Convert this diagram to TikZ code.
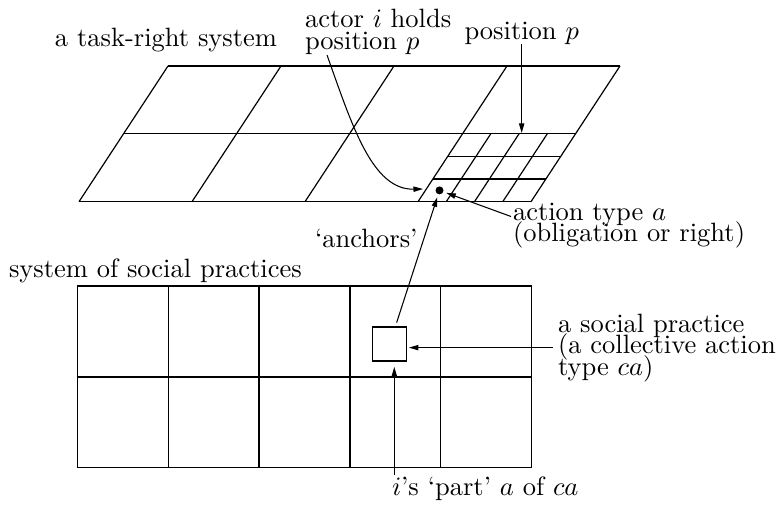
\documentclass[tikz,border=0pt]{standalone}
\usetikzlibrary{arrows.meta,calc}
\newcommand\lblfont{\fontsize{10}{8.11}\selectfont\lineskiplimit=-20pt\relax}
\begin{document}
\begin{tikzpicture}[x=0.3774pt,y=-0.3774pt,
  lbl/.style={inner sep=0pt,outer sep=0pt,anchor=base west,align=left,font=\lblfont},
  arr/.style={-{Triangle[length=3.6pt,width=2pt]},line width=0.4pt},
  gridline/.style={line width=0.45pt},
]
\useasboundingbox (0,0) rectangle (780,506);

% task-right system (slanted grid)
\foreach \u in {0,...,4} \draw[gridline] ({168+113*\u},66) -- ({79+113*\u},201.7);
\foreach \v in {0,1,2} \draw[gridline] ({168-44.5*\v},{66+67.85*\v}) -- ({620-44.5*\v},{66+67.85*\v});
\foreach \u in {3.25,3.5,3.75} \draw[gridline] ({168+113*\u-44.5},133.85) -- ({168+113*\u-89},201.7);
\foreach \v in {1.3333,1.6667} \draw[gridline] ({507-44.5*\v},{66+67.85*\v}) -- ({620-44.5*\v},{66+67.85*\v});

% system of social practices
\draw[gridline] (77.3,286) rectangle (531.7,467.7);
\foreach \k in {1,...,4} \draw[gridline] ({77.3+90.88*\k},286) -- ({77.3+90.88*\k},467.7);
\draw[gridline] (77.3,377) -- (531.7,377);

\node[draw,gridline,minimum size={34*0.3774pt},inner sep=0pt] (sq) at (389.7,344) {};
\node[circle,fill,inner sep=0pt,minimum size={8*0.3774pt}] (dot) at (439.5,190.4) {};

% labels (base = baseline of the last line)
\node[lbl] (trs) at (55,46.7) {a task-right system};
\node[lbl] (actor) at (305,49.3) {actor $i$ holds\\position $p$};
\node[lbl] (posp) at (464.5,39.3) {position $p$};
\node[lbl] (atype) at (513,241.7) {action type $a$\\(obligation or right)};
\node[lbl] (anch) at (315,247) {`anchors'};
\node[lbl] (ssp) at (9,277) {system of social practices};
\node[lbl] (sp) at (558,375) {a social practice\\(a collective action\\type $ca$)};
\node[lbl] (part) at (392,495) {$i$'s `part' $a$ of $ca$};

% connectors
\coordinate (cs) at (327,55);
\coordinate (ce) at (423,189);
\draw[arr] (cs) .. controls (352,125) and (372,190) .. (ce);
\coordinate (pmid) at (520.8,133);
\draw[arr] (posp.south) -- (posp.south |- pmid);
\coordinate (af) at (511,216.5);
\draw[arr,shorten >=1pt] (af) -- (dot);
\draw[arr,shorten <=1.5pt,shorten >=1pt] (sq) -- (dot);
\draw[arr,shorten >=0.6pt] ([xshift=-2pt]sp.west) -- (sp.west -| sq.east);
\coordinate (pb) at ($(part.north west)+(2.3,-1.5)$);
\draw[arr,shorten >=2pt] (pb) -- (pb |- sq.south);
\end{tikzpicture}
\end{document}
